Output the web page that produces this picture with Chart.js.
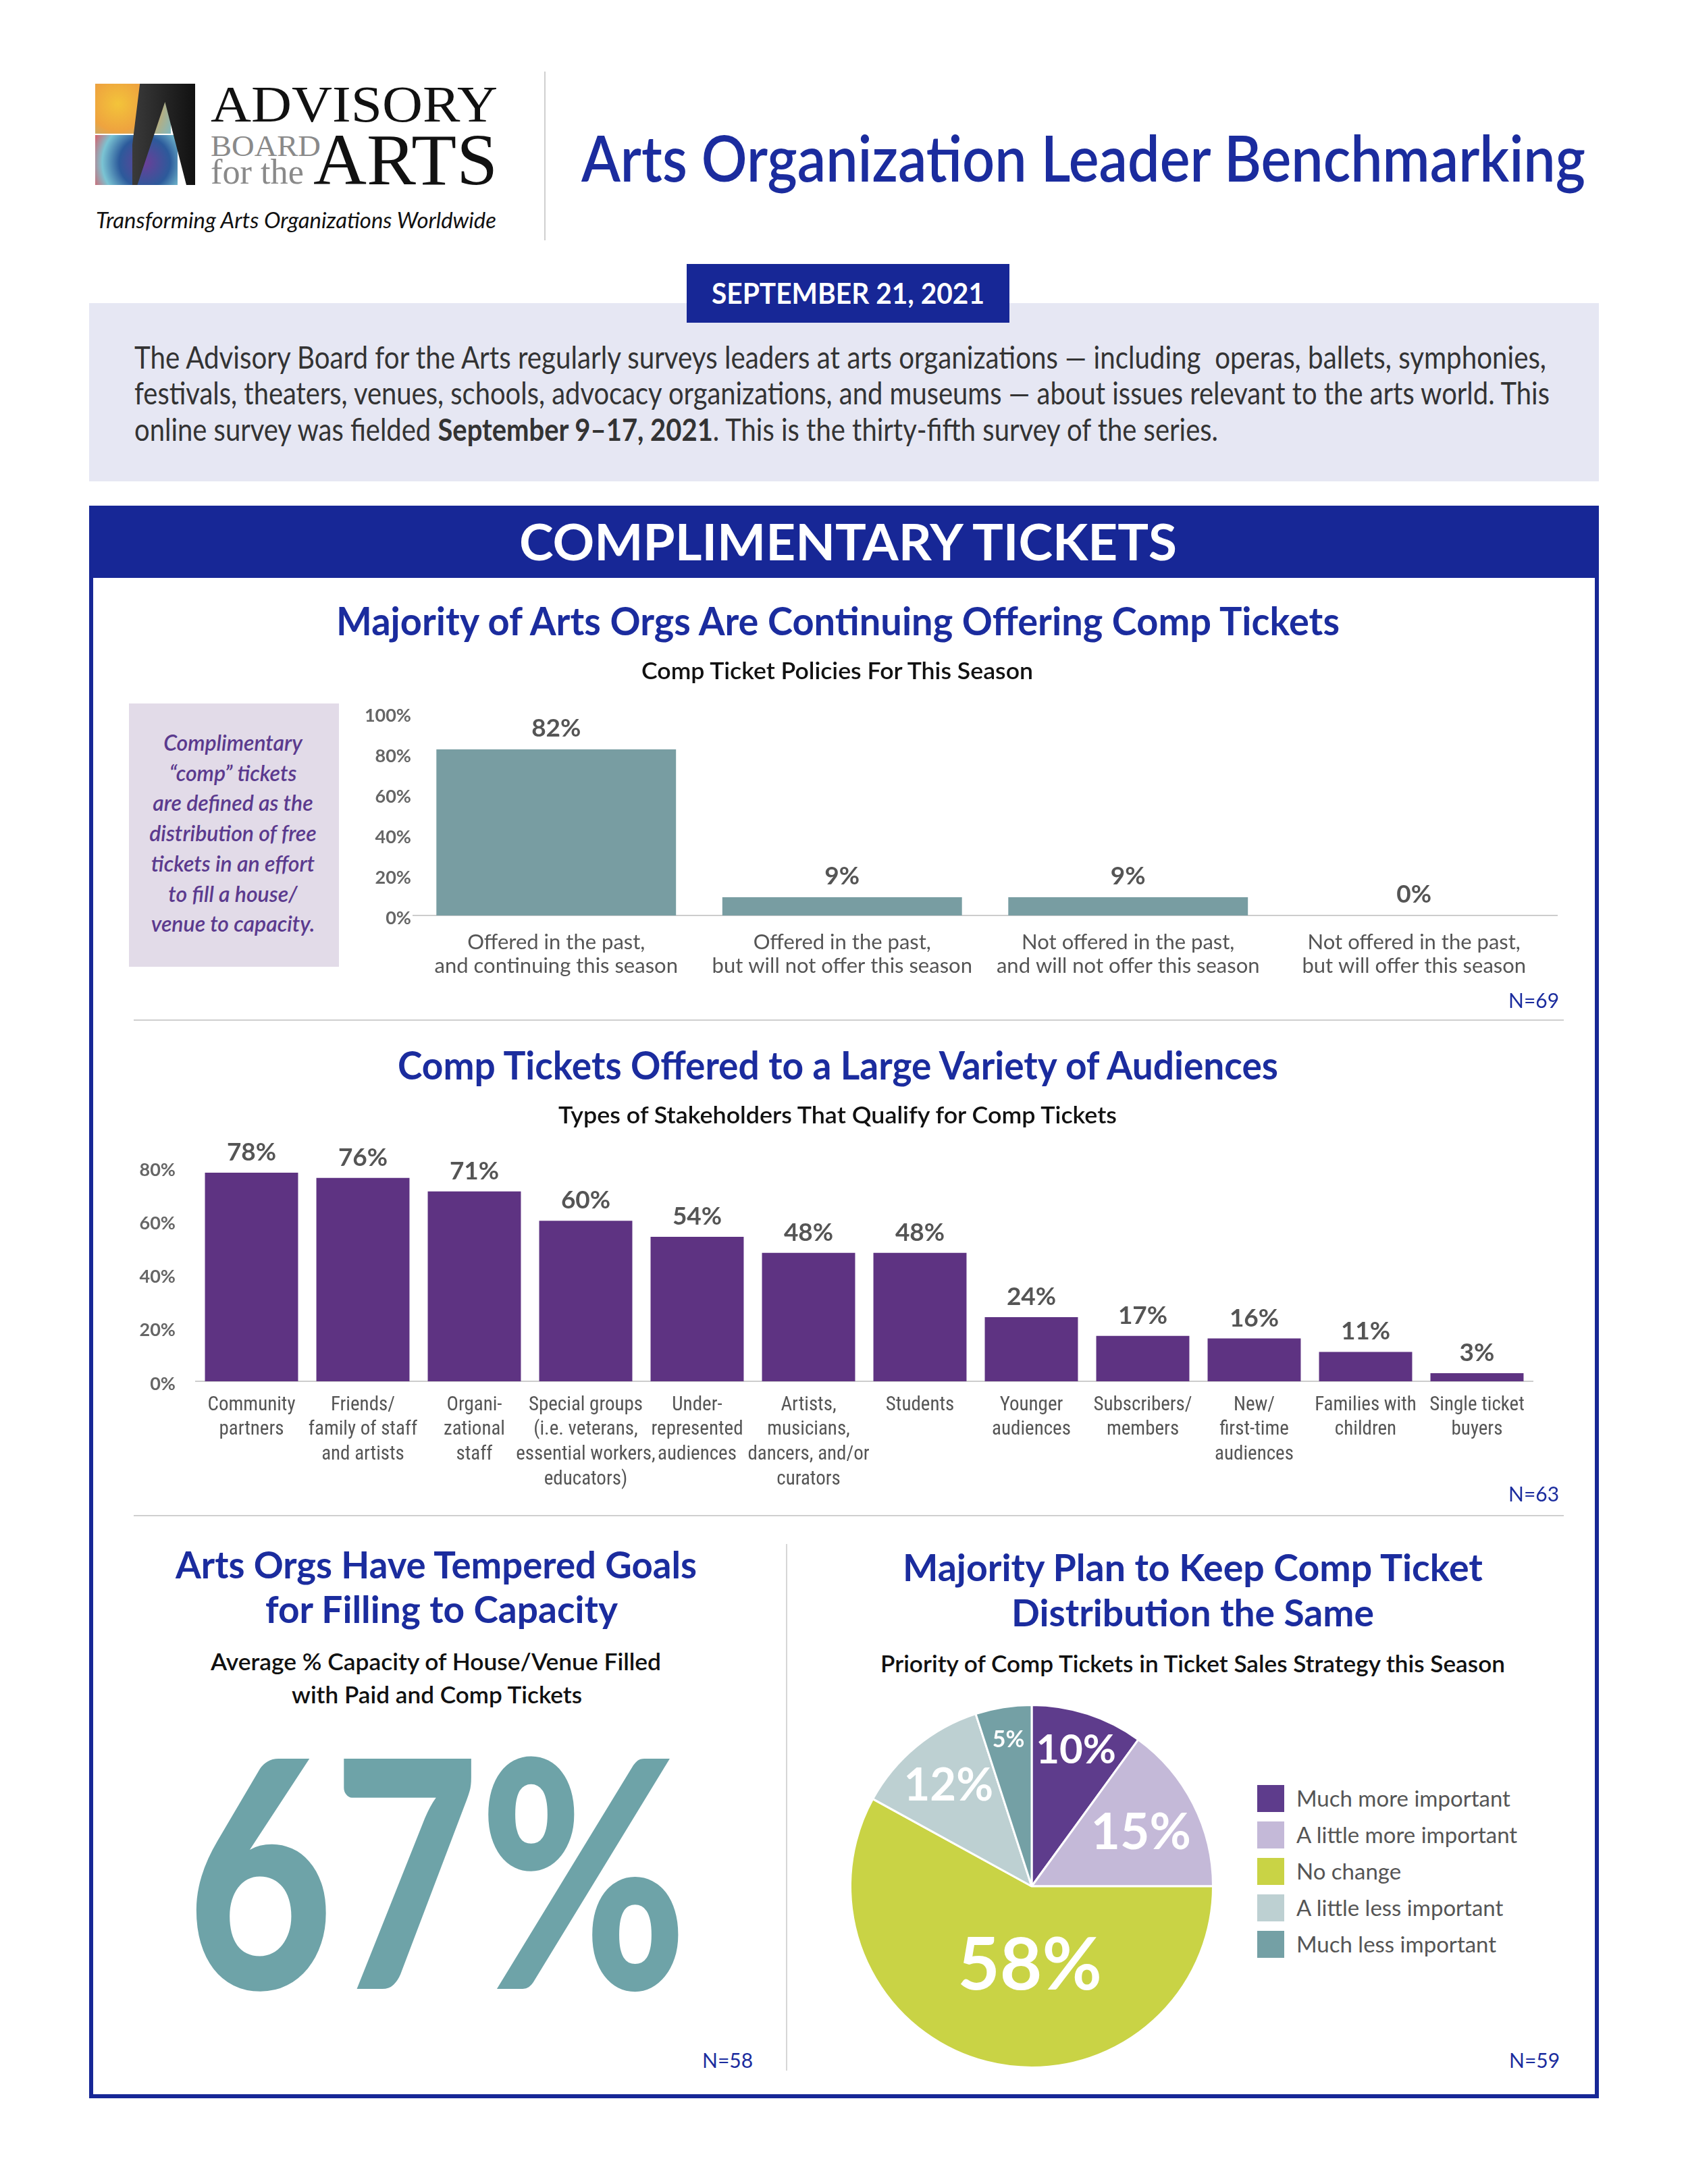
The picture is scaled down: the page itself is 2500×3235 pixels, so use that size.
<!DOCTYPE html>
<html>
<head>
<meta charset="utf-8">
<script src="https://cdn.jsdelivr.net/npm/chart.js@4.4.1/dist/chart.umd.min.js"></script>
<style>
  html, body { margin: 0; padding: 0; background: #fff; }
  body { width: 2500px; height: 3235px; position: relative; overflow: hidden; }
  .abs { position: absolute; }
  .t { position: absolute; white-space: nowrap; transform-origin: 0 0; }
  canvas { position: absolute; }
</style>
</head>
<body>
<!-- header / logo -->
<div class="abs" style="left:141px;top:124px;width:112px;height:74px;background:radial-gradient(circle at 30% 40%, #f3c43a 0%, #eea33f 45%, #7fb8c0 100%)"></div>
<div class="abs" style="left:141px;top:200px;width:122px;height:74px;background:radial-gradient(circle at 60% 55%, #6b3f98 0%, #2c5a9b 45%, #7bc4d3 75%, #d9606a 100%)"></div>
<div class="abs" style="left:196px;top:124px;width:93px;height:150px;background:linear-gradient(90deg,#3a3a3a,#111);clip-path:polygon(12% 0,100% 0,100% 100%,86% 100%,52% 18%,8% 100%,0 100%,0 60%)"></div>
<div class="abs" style="left:806px;top:106px;width:2px;height:250px;background:#cfcfcf"></div>

<!-- intro -->
<div class="abs" style="left:132px;top:449px;width:2236px;height:264px;background:#e6e7f3"></div>
<div class="abs" style="left:1017px;top:391px;width:478px;height:87px;background:#172796"></div>

<!-- main panel -->
<div class="abs" style="left:132px;top:749px;width:2236px;height:2359px;border:6px solid #172796;box-sizing:border-box"></div>
<div class="abs" style="left:132px;top:749px;width:2236px;height:107px;background:#172796"></div>
<div class="abs" style="left:191px;top:1042px;width:311px;height:390px;background:#e2dbe8"></div>
<div class="abs" style="left:198px;top:1510px;width:2118px;height:2px;background:#cfcfcf"></div>
<div class="abs" style="left:198px;top:2244px;width:2118px;height:2px;background:#cfcfcf"></div>
<div class="abs" style="left:1164px;top:2287px;width:2px;height:780px;background:#d6d6d6"></div>

<canvas id="policyChart" style="left:530px;top:1000px"></canvas>
<canvas id="audienceChart" style="left:170px;top:1660px"></canvas>
<canvas id="priorityChart" style="left:1228px;top:2494px"></canvas>

<script>
// ---- data ----
const policyLabels = [
  ['Offered in the past,', 'and continuing this season'],
  ['Offered in the past,', 'but will not offer this season'],
  ['Not offered in the past,', 'and will not offer this season'],
  ['Not offered in the past,', 'but will offer this season'],
];
const policyValues = [82, 9, 9, 0];

const audienceLabels = [
  ['Community', 'partners'],
  ['Friends/', 'family of staff', 'and artists'],
  ['Organi-', 'zational', 'staff'],
  ['Special groups', '(i.e. veterans,', 'essential workers,', 'educators)'],
  ['Under-', 'represented', 'audiences'],
  ['Artists,', 'musicians,', 'dancers, and/or', 'curators'],
  ['Students'],
  ['Younger', 'audiences'],
  ['Subscribers/', 'members'],
  ['New/', 'first-time', 'audiences'],
  ['Families with', 'children'],
  ['Single ticket', 'buyers'],
];
const audienceValues = [78, 76, 71, 60, 54, 48, 48, 24, 17, 16, 11, 3];

const priorityLabels = ['Much more important', 'A little more important', 'No change', 'A little less important', 'Much less important'];
const priorityValues = [10, 15, 58, 12, 5];

const capacityValue = 67;

// ---- styles ----
const FONT = "Lato, 'Open Sans', sans-serif";
const NARROW = "'Roboto Condensed', Lato, sans-serif";
const BLUE = '#1b2c9e';
const priorityColors = ['#5e3c8c', '#c4b9d8', '#c9d345', '#bdd0d2', '#74a0a5'];
// where the pie percentages sit (fraction of radius, angle shift in deg, font px)
const pieLabelRadius = [0.79, 0.67, 0.44, 0.72, 0.82];
const pieLabelShift = [0, 1, -13, 0, 0];
const pieLabelSize = [60, 75, 108, 67, 34];

// text helper: place a line centred on cy, optionally squeezed to width w
function put(html, o) {
  const el = document.createElement('div');
  el.className = 't';
  el.innerHTML = html;
  el.style.font = `${o.style || 'normal'} ${o.wt || 400} ${o.size}px ${o.fam || FONT}`;
  el.style.lineHeight = '1';
  el.style.color = o.color || '#222';
  document.body.appendChild(el);
  const nat = el.getBoundingClientRect().width;
  const s = o.w ? o.w / nat : 1;
  const w = nat * s;
  const left = o.cx !== undefined ? o.cx - w / 2 : o.x;
  el.style.left = left + 'px';
  el.style.top = (o.cy - (o.k || 0.53) * o.size) + 'px';
  el.style.transform = `scaleX(${s})`;
  return el;
}

const SERIF = "'Liberation Serif', 'DejaVu Serif', serif";
put('ADVISORY', { x: 312, cy: 155, size: 76, fam: SERIF, color: '#111', w: 425, k: 0.51 });
put('BOARD', { x: 312, cy: 217, size: 45, fam: SERIF, color: '#8a8a8a', w: 163, k: 0.51 });
put('for the', { x: 312, cy: 256, size: 52, fam: SERIF, color: '#8a8a8a', w: 138, k: 0.51 });
put('ARTS', { x: 464, cy: 238, size: 108, fam: SERIF, color: '#111', w: 273, k: 0.51 });
put('Transforming Arts Organizations Worldwide', { x: 142, cy: 326, size: 33, style: 'italic', color: '#111', w: 593 });
put('Arts Organization Leader Benchmarking', { x: 861, cy: 235, size: 95, wt: 600, color: BLUE, w: 1487 });

put('SEPTEMBER 21, 2021', { cx: 1256, cy: 435, size: 42, wt: 700, color: '#fff', w: 404 });
put('The Advisory Board for the Arts regularly surveys leaders at arts organizations \u2014 including&nbsp; operas, ballets, symphonies,', { x: 199, cy: 530, size: 46, color: '#333', w: 2091 });
put('festivals, theaters, venues, schools, advocacy organizations, and museums \u2014 about issues relevant to the arts world. This', { x: 199, cy: 583, size: 46, color: '#333', w: 2096 });
put('online survey was fielded <b>September 9\u201317, 2021</b>. This is the thirty-fifth survey of the series.', { x: 199, cy: 637, size: 46, color: '#333', w: 1605 });

put('COMPLIMENTARY TICKETS', { cx: 1256, cy: 804, size: 75, wt: 700, color: '#fff', w: 974 });
put('Majority of Arts Orgs Are Continuing Offering Comp Tickets', { cx: 1241, cy: 921, size: 57, wt: 700, color: BLUE, w: 1486 });
put('Comp Ticket Policies For This Season', { cx: 1240, cy: 994, size: 35, wt: 600, color: '#111', w: 580 });

const noteLines = ['Complimentary', '\u201Ccomp\u201D tickets', 'are defined as the', 'distribution of free', 'tickets in an effort', 'to fill a house/', 'venue to capacity.'];
noteLines.forEach((l, i) => put(l, { cx: 345, cy: 1101 + i * 44.7, size: 32, wt: 600, style: 'italic', color: '#5b3a8e' }));
put('N=69', { x: 2234, cy: 1482, size: 30, color: BLUE });

put('Comp Tickets Offered to a Large Variety of Audiences', { cx: 1241, cy: 1579, size: 57, wt: 700, color: BLUE, w: 1304 });
put('Types of Stakeholders That Qualify for Comp Tickets', { cx: 1240, cy: 1652, size: 35, wt: 600, color: '#111', w: 827 });
put('N=63', { x: 2234, cy: 2213, size: 30, color: BLUE });

put('Arts Orgs Have Tempered Goals', { cx: 646, cy: 2319, size: 56, wt: 700, color: BLUE, w: 772 });
put('for Filling to Capacity', { cx: 654, cy: 2385, size: 56, wt: 700, color: BLUE, w: 522 });
put('Average % Capacity of House/Venue Filled', { cx: 645, cy: 2462, size: 35, wt: 600, color: '#111', w: 667 });
put('with Paid and Comp Tickets', { cx: 647, cy: 2511, size: 35, wt: 600, color: '#111', w: 430 });
put(capacityValue + '%', { cx: 647, cy: 2778, size: 470, wt: 900, color: '#6ea3a8', w: 741 });
put('N=58', { x: 1040, cy: 3052, size: 30, color: BLUE });

put('Majority Plan to Keep Comp Ticket', { cx: 1766, cy: 2323, size: 56, wt: 700, color: BLUE, w: 859 });
put('Distribution the Same', { cx: 1766, cy: 2390, size: 56, wt: 700, color: BLUE, w: 537 });
put('Priority of Comp Tickets in Ticket Sales Strategy this Season', { cx: 1766, cy: 2465, size: 35, wt: 600, color: '#111', w: 925 });
put('N=59', { x: 2235, cy: 3052, size: 30, color: BLUE });

// html legend for the pie, built from the same arrays
priorityLabels.forEach((lab, i) => {
  const sq = document.createElement('div');
  sq.className = 'abs';
  sq.style.cssText = `left:1862px;top:${2644 + i * 54}px;width:40px;height:40px;background:${priorityColors[i]}`;
  document.body.appendChild(sq);
  put(lab, { x: 1920, cy: 2664 + i * 54, size: 33, color: '#555' });
});

// ---- value labels above bars ----
const valueLabels = {
  id: 'valueLabels',
  afterDatasetsDraw(chart, args, opts) {
    const { ctx } = chart;
    const meta = chart.getDatasetMeta(0);
    ctx.save();
    ctx.font = `700 ${opts.size}px ${FONT}`;
    ctx.fillStyle = opts.color;
    ctx.textAlign = 'center';
    ctx.textBaseline = 'middle';
    meta.data.forEach((bar, i) => {
      ctx.fillText(chart.data.datasets[0].data[i] + '%', bar.x, bar.y - opts.offset);
    });
    ctx.restore();
  }
};

// ---- percentages inside the pie ----
const pieLabels = {
  id: 'pieLabels',
  afterDatasetsDraw(chart) {
    const { ctx } = chart;
    const meta = chart.getDatasetMeta(0);
    ctx.save();
    ctx.fillStyle = '#fff';
    ctx.textAlign = 'center';
    ctx.textBaseline = 'middle';
    meta.data.forEach((arc, i) => {
      const p = arc.getProps(['x', 'y', 'startAngle', 'endAngle', 'outerRadius'], true);
      const mid = (p.startAngle + p.endAngle) / 2 + pieLabelShift[i] * Math.PI / 180;
      const r = p.outerRadius * pieLabelRadius[i];
      ctx.font = `700 ${pieLabelSize[i]}px ${FONT}`;
      ctx.fillText(chart.data.datasets[0].data[i] + '%', p.x + r * Math.cos(mid), p.y + r * Math.sin(mid));
    });
    ctx.restore();
  }
};

function barOptions(cfg) {
  return {
    responsive: false,
    animation: false,
    layout: { padding: cfg.padding },
    plugins: {
      legend: { display: false },
      tooltip: { enabled: false },
      valueLabels: { size: 37, color: '#555', offset: cfg.labelOffset },
    },
    scales: {
      x: {
        grid: { display: false, drawTicks: false },
        border: { display: true, color: '#cdcdcd', width: 2 },
        ticks: {
          color: '#555',
          font: { family: cfg.xFont, size: cfg.xSize, weight: cfg.xWeight, lineHeight: cfg.xLine },
          padding: cfg.xPad,
          maxRotation: 0, minRotation: 0, autoSkip: false,
        },
        afterFit: s => { s.height = cfg.xHeight; },
      },
      y: {
        min: 0, max: cfg.max,
        grid: { display: false, drawTicks: false },
        border: { display: false },
        ticks: {
          stepSize: 20,
          color: '#666',
          font: { family: FONT, size: 27, weight: 'bold' },
          padding: cfg.yPad,
          labelOffset: 4,
          callback: v => v + '%',
        },
        afterFit: s => { s.width = cfg.yWidth; },
      },
    },
  };
}

const c1 = document.getElementById('policyChart');
c1.width = 1800; c1.height = 480;
new Chart(c1, {
  type: 'bar',
  data: {
    labels: policyLabels,
    datasets: [{ data: policyValues, backgroundColor: '#789da2', barPercentage: 0.838, categoryPercentage: 1 }],
  },
  options: barOptions({
    padding: { left: 2, right: 24, top: 56, bottom: 14 },
    max: 100, yWidth: 80, yPad: 3, xHeight: 110, xPad: 22,
    xFont: FONT, xSize: 31, xWeight: 'normal', xLine: 1.13, labelOffset: 31,
  }),
  plugins: [valueLabels],
});

const c2 = document.getElementById('audienceChart');
c2.width = 2150; c2.height = 570;
new Chart(c2, {
  type: 'bar',
  data: {
    labels: audienceLabels,
    datasets: [{ data: audienceValues, backgroundColor: '#5e3382', barPercentage: 0.836, categoryPercentage: 1 }],
  },
  options: barOptions({
    padding: { left: 20, right: 50, top: 69, bottom: 14 },
    max: 80, yWidth: 100, yPad: 30, xHeight: 170, xPad: 17,
    xFont: NARROW, xSize: 29, xWeight: 'normal', xLine: 1.27, labelOffset: 30,
  }),
  plugins: [valueLabels],
});

const c3 = document.getElementById('priorityChart');
c3.width = 600; c3.height = 600;
new Chart(c3, {
  type: 'pie',
  data: {
    labels: priorityLabels,
    datasets: [{ data: priorityValues, backgroundColor: priorityColors, borderColor: '#fff', borderWidth: 3 }],
  },
  options: {
    responsive: false,
    animation: false,
    layout: { padding: 30 },
    plugins: { legend: { display: false }, tooltip: { enabled: false } },
  },
  plugins: [pieLabels],
});
</script>
</body>
</html>
